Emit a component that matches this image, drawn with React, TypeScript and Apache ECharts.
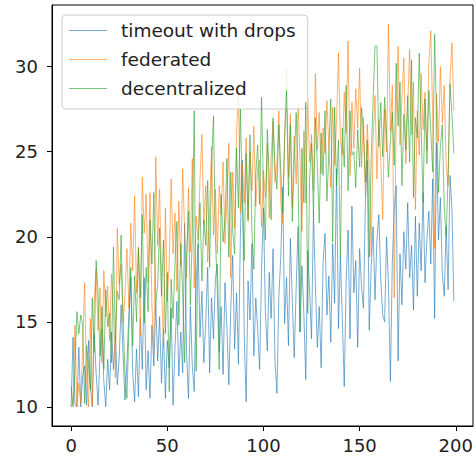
import React, { useEffect, useRef } from "react";
import * as echarts from "echarts";

const seriesNames = ["timeout with drops", "federated", "decentralized"];
const seriesColors = ["#1f77b4", "#ff7f0e", "#2ca02c"];
const xTicks = [0, 50, 100, 150, 200];
const yTicks = [10, 15, 20, 25, 30];

const timeoutWithDrops = [
  10.0, 14.1, 10.2, 10.0, 13.5, 10.0, 11.8, 12.4, 10.1, 13.9,
  11.2, 10.0, 14.3, 12.0, 10.1, 13.0, 14.6, 11.5, 10.0, 12.8,
  11.0, 14.4, 12.2, 14.2, 11.3, 12.9, 16.0, 13.1, 10.4, 12.6,
  15.4, 17.6, 12.0, 10.3, 13.4, 10.6, 15.2, 12.2, 17.6, 11.0,
  13.3, 10.5, 14.8, 12.4, 16.1, 12.7, 15.3, 11.4, 14.6, 10.5,
  13.9, 12.3, 15.8, 10.1, 13.5, 16.2, 11.8, 14.4, 12.0, 20.8,
  13.2, 10.5, 15.9, 12.4, 10.9, 17.3, 19.6, 14.1, 16.8, 12.6,
  15.0, 18.2, 12.0, 16.4, 14.0, 17.5, 18.4, 13.2, 15.9, 11.9,
  17.3, 14.6, 11.3, 15.8, 18.9, 13.4, 16.7, 12.5, 20.1, 24.5,
  14.2, 10.3, 17.4, 15.1, 19.6, 13.0, 16.4, 14.5, 12.2, 18.0,
  21.7, 15.6, 13.3, 17.9, 15.2, 19.3, 12.7, 10.8, 16.5, 18.8,
  22.9, 14.9, 17.6, 13.6, 19.9, 16.2, 12.9, 17.0, 20.6, 14.4,
  18.3, 15.5, 11.6, 19.2, 16.8, 14.0, 21.5, 17.1, 13.5, 15.9,
  12.3, 18.5, 20.2, 15.4, 17.7, 13.8, 19.6, 16.1, 24.0, 14.6,
  18.9, 15.2, 11.2, 17.4, 20.4, 14.0, 21.8, 16.7, 18.6, 13.5,
  19.3, 17.0, 15.8, 22.1, 24.5, 14.5, 18.2, 20.6, 16.3, 19.8,
  21.3, 17.5, 15.4, 15.0, 20.0, 17.2, 11.5, 18.5, 21.6, 23.0,
  12.7, 19.0, 16.0, 20.3, 18.1, 22.0, 17.6, 19.5, 15.7, 21.2,
  16.5, 20.8, 18.0, 22.6, 17.3, 19.9, 21.5, 18.4, 23.4, 15.2,
  25.5, 19.8, 22.3, 17.8, 16.5, 20.6, 16.9, 23.6, 21.6, 16.2,
];

const federated = [
  10.0, 10.3, 14.8, 10.0, 11.4, 10.2, 13.6, 17.3, 11.9, 10.0,
  15.2, 10.1, 16.2, 18.1, 14.5, 17.0, 12.6, 18.0, 15.3, 17.1,
  13.9, 17.8, 15.6, 11.7, 20.5, 17.2, 18.4, 14.9, 16.6, 19.3,
  15.8, 20.8, 18.0, 22.4, 16.7, 19.4, 14.2, 23.5, 20.2, 22.5,
  17.3, 22.6, 16.0, 13.1, 24.7, 19.5, 22.8, 17.4, 13.5, 21.7,
  16.2, 18.5, 23.4, 19.0, 21.4, 16.8, 22.1, 18.3, 24.0, 20.3,
  17.6, 22.9, 19.1, 24.6, 17.0, 21.2, 19.8, 23.4, 26.0, 20.7,
  23.0, 18.5, 21.6, 25.3, 20.1, 22.8, 19.0, 23.0, 21.3, 24.4,
  19.6, 22.2, 25.5, 17.6, 23.8, 20.5, 26.1, 28.6, 21.4, 24.3,
  22.0, 25.8, 20.9, 25.0, 22.7, 26.5, 21.8, 24.0, 24.5, 20.6,
  23.9, 22.3, 25.5, 21.1, 24.7, 26.8, 23.2, 24.3, 27.4, 22.0,
  20.8, 25.6, 29.9, 23.5, 27.2, 21.7, 25.9, 23.1, 27.8, 24.6,
  20.3, 26.2, 22.0, 28.1, 24.4, 26.0, 22.7, 29.6, 25.1, 27.3,
  23.7, 26.4, 24.9, 28.0, 25.3, 22.9, 27.6, 24.2, 26.8, 30.8,
  25.7, 24.8, 28.5, 26.1, 31.5, 23.6, 27.9, 25.2, 28.7, 26.4,
  29.9, 24.1, 27.0, 22.3, 26.6, 24.0, 18.9, 25.7, 28.3, 23.4,
  26.9, 24.5, 21.0, 27.5, 25.0, 32.5, 26.2, 28.9, 16.4, 27.1,
  31.2, 25.4, 28.2, 30.5, 24.3, 27.7, 31.0, 26.0, 29.1, 21.6,
  27.4, 24.8, 29.6, 26.3, 28.5, 25.1, 30.2, 32.1, 27.0, 19.3,
  28.4, 25.6, 30.0, 26.7, 28.9, 24.2, 23.0, 29.3, 31.4, 27.4,
];

const decentralized = [
  11.2, 10.0, 12.3, 15.6, 14.3, 15.4, 14.8, 10.2, 13.6, 12.5,
  11.0, 16.4, 13.2, 18.6, 16.7, 13.0, 15.9, 12.2, 16.9, 14.7,
  15.5, 12.6, 19.4, 14.0, 16.8, 16.3, 20.1, 15.1, 12.0, 10.5,
  14.4, 18.2, 13.6, 17.7, 15.0, 19.3, 16.4, 21.3, 14.9, 18.2,
  15.6, 21.0, 18.4, 22.6, 16.1, 17.2, 20.5, 16.5, 19.8, 14.3,
  17.9, 10.9, 17.5, 15.2, 18.5, 20.9, 14.8, 19.6, 16.7, 12.6,
  18.8, 21.5, 16.0, 20.2, 27.4, 12.1, 19.3, 22.0, 17.4, 21.0,
  19.5, 23.3, 18.2, 24.1, 27.1, 20.0, 16.9, 12.2, 22.5, 19.7,
  21.0, 24.6, 18.8, 23.8, 20.4, 19.0, 25.2, 21.7, 27.5, 22.3,
  18.6, 24.9, 21.0, 26.0, 20.3, 18.1, 23.7, 25.4, 21.9, 28.2,
  22.6, 19.8, 26.3, 23.5, 21.0, 27.0, 24.1, 22.8, 26.6, 23.9,
  21.4, 25.8, 28.6, 22.4, 26.6, 20.9, 24.5, 27.3, 23.8, 14.4,
  25.2, 22.0, 27.9, 15.5, 23.4, 25.5, 21.3, 27.0, 24.2, 20.8,
  26.1, 23.6, 27.4, 22.1, 25.0, 28.1, 19.7, 27.6, 23.0, 25.7,
  18.8, 26.4, 24.1, 28.9, 22.7, 27.4, 24.8, 25.0, 22.9, 26.3,
  24.1, 27.6, 26.0, 23.2, 25.7, 18.8, 24.6, 28.0, 31.2, 31.2,
  25.3, 27.9, 24.7, 28.2, 26.0, 23.5, 25.6, 27.3, 24.2, 30.2,
  26.5, 29.1, 23.0, 27.2, 25.1, 28.3, 24.4, 30.4, 22.3, 27.0,
  25.8, 30.8, 26.4, 22.0, 28.1, 24.3, 28.6, 26.2, 23.8, 31.9,
  27.0, 22.6, 25.3, 26.6, 21.7, 20.0, 23.6, 29.0, 27.2, 24.9,
];

const allSeries = [timeoutWithDrops, federated, decentralized];

export default function App() {
  const ref = useRef<HTMLDivElement>(null);
  useEffect(() => {
    if (!ref.current) return;
    const chart = echarts.init(ref.current, undefined, { renderer: "svg" });
    const font = "DejaVu Sans";
    const textColor = "#222222";
    const n = timeoutWithDrops.length;
    const option: any = {
      animation: false,
      backgroundColor: "#ffffff",
      textStyle: { fontFamily: font },
      grid: {
        left: 52,
        right: 3,
        top: 5,
        bottom: 33,
        show: true,
        borderColor: "#000000",
        borderWidth: 1,
        backgroundColor: "transparent",
        outerBoundsMode: "none",
        containLabel: false,
      },
      legend: {
        left: 62,
        top: 15,
        orient: "vertical",
        itemWidth: 38,
        itemHeight: 1,
        itemGap: 10,
        padding: [6, 12, 11, 7],
        borderColor: "#cccccc",
        borderWidth: 1,
        borderRadius: 4,
        backgroundColor: "rgba(255,255,255,0.8)",
        data: seriesNames.map((name, i) => ({
          name,
          icon: "rect",
          itemStyle: { color: seriesColors[i], opacity: 0.6 },
        })),
        textStyle: {
          fontFamily: font,
          fontSize: 18.5,
          lineHeight: 18,
          color: textColor,
          padding: [0, 0, 0, 9],
        },
      },
      xAxis: {
        type: "value",
        min: -(n - 1) * 0.05,
        max: (n - 1) * 1.05,
        splitLine: { show: false },
        axisLine: { show: true, onZero: false, lineStyle: { color: "#000000", width: 1 } },
        axisTick: {
          show: true,
          length: 5,
          inside: false,
          customValues: xTicks,
          lineStyle: { color: "#000000", width: 1 },
        },
        axisLabel: {
          customValues: xTicks,
          fontFamily: font,
          fontSize: 18,
          color: textColor,
          margin: 10,
          showMinLabel: true,
          showMaxLabel: true,
        },
      },
      yAxis: {
        type: "value",
        min: 10 - 22.5 * 0.05,
        max: 32.5 + 22.5 * 0.05,
        splitLine: { show: false },
        axisLine: { show: true, onZero: false, lineStyle: { color: "#000000", width: 1 } },
        axisTick: {
          show: true,
          length: 5,
          inside: false,
          customValues: yTicks,
          lineStyle: { color: "#000000", width: 1 },
        },
        axisLabel: {
          customValues: yTicks,
          fontFamily: font,
          fontSize: 18,
          color: textColor,
          margin: 14,
        },
      },
      series: allSeries.map((vals, i) => ({
        name: seriesNames[i],
        type: "line",
        data: vals.map((v, idx) => [idx, v]),
        showSymbol: false,
        symbol: "none",
        lineStyle: { color: seriesColors[i], width: 0.75, opacity: 0.8 },
        itemStyle: { color: seriesColors[i] },
        z: 2 + i,
      })),
    };
    chart.setOption(option);
    return () => chart.dispose();
  }, []);
  return <div ref={ref} style={{ width: 476, height: 459, position: "absolute", left: 0, top: 0 }} />;
}
